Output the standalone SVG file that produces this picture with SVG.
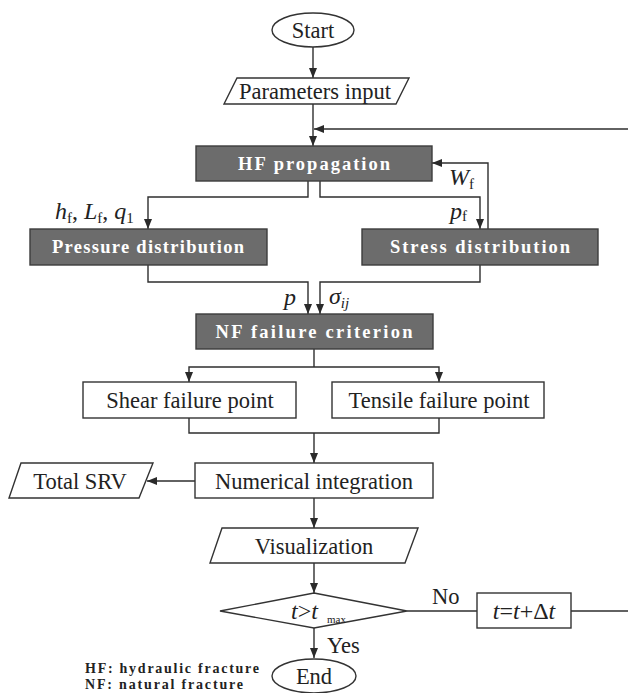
<svg xmlns="http://www.w3.org/2000/svg" width="628" height="693" viewBox="0 0 628 693">
<defs>
<marker id="ah" markerWidth="10" markerHeight="8" refX="10" refY="4" orient="auto" markerUnits="userSpaceOnUse">
<path d="M0,0 L10,4 L0,8 Z" fill="#2a2a2a"/>
</marker>
<style>
.ln{fill:none;stroke:#2e2e2e;stroke-width:1.4}
.ar{fill:none;stroke:#2e2e2e;stroke-width:1.4;marker-end:url(#ah)}
.wb{fill:#fff;stroke:#333;stroke-width:1.4}
.gb{fill:#6c6c6c;stroke:#3c3c3c;stroke-width:1.4}
.t{font-family:"Liberation Serif",serif;font-size:22.5px;fill:#222;text-anchor:middle}
.ts{font-family:"Liberation Serif",serif;font-size:22.5px;fill:#222;text-anchor:start}
.tb{font-family:"Liberation Serif",serif;font-size:18.5px;font-weight:bold;fill:#fff;text-anchor:middle}
.it{font-family:"Liberation Serif",serif;font-size:24px;font-style:italic;fill:#222}
.sb{font-family:"Liberation Serif",serif;font-size:15px;fill:#222}
.lg{font-family:"Liberation Serif",serif;font-size:14px;font-weight:bold;fill:#222}
</style>
</defs>
<rect width="628" height="693" fill="#fff"/>
<g id="connectors">
<line class="ar" x1="313" y1="47" x2="313" y2="78"/>
<line class="ar" x1="313" y1="104" x2="313" y2="146"/>
<line class="ar" x1="628" y1="129" x2="314" y2="129"/>
<polyline class="ar" points="308,181 308,197 148,197 148,229"/>
<polyline class="ar" points="320,181 320,197 480,197 480,229"/>
<polyline class="ar" points="488,229 488,163 432,163"/>
<polyline class="ar" points="148,265 148,282 308,282 308,314"/>
<polyline class="ar" points="480,265 480,282 320,282 320,314"/>
<line class="ln" x1="314" y1="349" x2="314" y2="367"/>
<polyline class="ar" points="314,367 189,367 189,382"/>
<polyline class="ar" points="314,367 439,367 439,382"/>
<polyline class="ln" points="189,418 189,433 439,433 439,418"/>
<line class="ar" x1="314" y1="433" x2="314" y2="463"/>
<line class="ar" x1="195" y1="481" x2="147" y2="481"/>
<line class="ar" x1="314" y1="498" x2="314" y2="528"/>
<line class="ar" x1="314" y1="563" x2="314" y2="593"/>
<line class="ar" x1="314" y1="628" x2="314" y2="658"/>
<line class="ln" x1="407" y1="611" x2="477" y2="611"/>
<line class="ln" x1="571" y1="611" x2="628" y2="611"/>
</g>
<g id="start">
<ellipse class="wb" cx="313" cy="30" rx="41" ry="17"/>
<text class="t" x="313" y="38">Start</text>
</g>
<g id="params">
<polygon class="wb" points="237,78 409,78 396,104 224,104"/>
<text class="t" x="315" y="99">Parameters input</text>
</g>
<g id="hf">
<rect class="gb" x="196" y="146" width="236" height="35"/>
<text class="tb" x="314" y="170" textLength="152" lengthAdjust="spacing">HF propagation</text>
</g>
<g id="pressure">
<rect class="gb" x="30" y="229" width="237" height="36"/>
<text class="tb" x="148" y="253" textLength="192" lengthAdjust="spacing">Pressure distribution</text>
</g>
<g id="stress">
<rect class="gb" x="362" y="229" width="236" height="36"/>
<text class="tb" x="480" y="253" textLength="180" lengthAdjust="spacing">Stress distribution</text>
</g>
<g id="nf">
<rect class="gb" x="196" y="314" width="237" height="35"/>
<text class="tb" x="314" y="338" textLength="197" lengthAdjust="spacing">NF failure  criterion</text>
</g>
<g id="shear">
<rect class="wb" x="83" y="382" width="213" height="36"/>
<text class="t" x="190" y="408">Shear failure point</text>
</g>
<g id="tensile">
<rect class="wb" x="332" y="382" width="212" height="36"/>
<text class="t" x="439" y="408">Tensile failure point</text>
</g>
<g id="numint">
<rect class="wb" x="195" y="463" width="238" height="35"/>
<text class="t" x="314" y="489">Numerical integration</text>
</g>
<g id="srv">
<polygon class="wb" points="21,463 153,463 139,498 9,498"/>
<text class="t" x="80" y="489">Total SRV</text>
</g>
<g id="vis">
<polygon class="wb" points="222,528 418,528 405,563 210,563"/>
<text class="t" x="314" y="554">Visualization</text>
</g>
<g id="decision">
<polygon class="wb" points="314,593 407,611 314,628 220,611"/>
<text class="it" x="291" y="619">t<tspan font-style="normal">&gt;</tspan>t</text>
<text class="sb" x="327" y="623" style="font-size:11px">max</text>
</g>
<g id="tstep">
<rect class="wb" x="477" y="593" width="94" height="35"/>
<text class="it" x="524" y="619" style="text-anchor:middle">t<tspan font-style="normal">=</tspan>t<tspan font-style="normal">+Δ</tspan>t</text>
</g>
<g id="end">
<ellipse class="wb" cx="314" cy="676" rx="42" ry="17"/>
<text class="t" x="314" y="684">End</text>
</g>
<g id="labels">
<text class="it" x="55" y="219">h<tspan class="sb" font-style="normal" dy="4">f</tspan><tspan dy="-4" font-style="normal">, </tspan>L<tspan class="sb" font-style="normal" dy="4">f</tspan><tspan dy="-4" font-style="normal">, </tspan>q<tspan class="sb" font-style="normal" dy="4">1</tspan></text>
<text class="it" x="449" y="185">W<tspan class="sb" font-style="normal" dy="4">f</tspan></text>
<text class="it" x="450" y="219">p<tspan class="sb" font-style="normal" dy="2">f</tspan></text>
<text class="it" x="284" y="305">p</text>
<text class="it" x="329" y="304">σ<tspan class="sb" font-style="italic" dy="4">ij</tspan></text>
<text class="ts" x="327" y="653">Yes</text>
<text class="ts" x="432" y="604">No</text>
<text class="lg" x="85" y="673" textLength="174" lengthAdjust="spacing">HF: hydraulic fracture</text>
<text class="lg" x="85" y="689" textLength="158" lengthAdjust="spacing">NF: natural fracture</text>
</g>
</svg>
